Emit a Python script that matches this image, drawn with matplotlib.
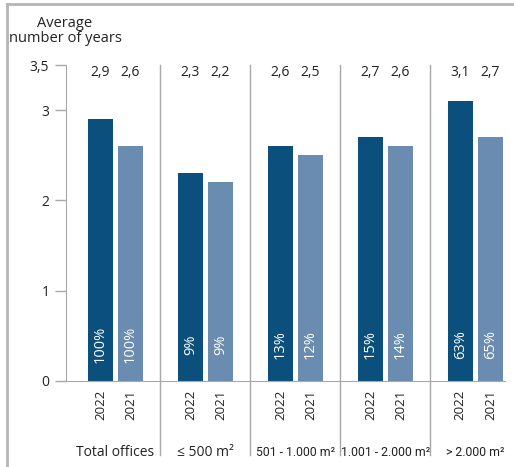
import matplotlib
matplotlib.use("Agg")
import matplotlib.pyplot as plt
import numpy as np

plt.rcParams['font.family'] = ['Open Sans', 'DejaVu Sans']

categories = ["Total offices", "≤ 500 m²", "501 - 1.000 m²", "1.001 - 2.000 m²", "> 2.000 m²"]
years = ["2022", "2021"]
years_2022 = [2.9, 2.3, 2.6, 2.7, 3.1]
years_2021 = [2.6, 2.2, 2.5, 2.6, 2.7]
share_2022 = ["100%", "9%", "13%", "15%", "63%"]
share_2021 = ["100%", "9%", "12%", "14%", "65%"]

dark = "#0b4f7c"
light = "#6a8cb0"
grey = "#a8a8a8"

fig = plt.figure(figsize=(5.14, 4.67), dpi=100)
ax = fig.add_axes([0.1284, 0.1842, 0.8541, 0.6766])

x = np.arange(len(categories))
off = 0.167
w = 0.278
ax.bar(x - off, years_2022, width=w, color=dark)
ax.bar(x + off, years_2021, width=w, color=light)

for i in x:
    for dx, v, s, yr in [(-off, years_2022[i], share_2022[i], years[0]),
                         (off, years_2021[i], share_2021[i], years[1])]:
        ax.text(i + dx, 3.42, f"{v:.1f}".replace(".", ","), ha="center", va="center",
                fontsize=10, color="#222222")
        ax.text(i + dx, 0.4, s, rotation=90, ha="center", va="center",
                fontsize=10.5, color="white")
        ax.text(i + dx, -0.1, yr, rotation=90, ha="center", va="top",
                fontsize=9.5, color="#222222")
    # narrower face for the longer group names so they stay inside their column
    if i < 2:
        ax.text(i, -0.79, categories[i], ha="center", va="center",
                fontsize=10, color="#222222")
    else:
        ax.text(i, -0.79, categories[i], ha="center", va="center",
                fontsize=8.8, color="#222222", family=['Roboto', 'DejaVu Sans'])

# group separators running from the top down through the label area
for i in x[:-1]:
    ax.plot([i + 0.5, i + 0.5], [3.5, -0.82], color=grey, lw=1, clip_on=False)

ax.set_xlim(-0.55, 4.33)
ax.set_ylim(0, 3.5)
ax.set_yticks([0, 1, 2, 3, 3.5])
ax.set_yticklabels(["0", "1", "2", "3", "3,5"], fontsize=10, color="#222222")
ax.set_xticks([])
ax.tick_params(axis="y", length=8, color=grey, width=1, pad=4)
for side in ["top", "right"]:
    ax.spines[side].set_visible(False)
ax.spines["left"].set_color(grey)
ax.spines["bottom"].set_color(grey)
ax.spines["bottom"].set_bounds(-0.59, 4.33)

fig.text(65 / 514, 1 - 31 / 467, "Average\nnumber of years", ha="center",
         va="center", fontsize=10.5, color="#222222", linespacing=0.95)

# frame lines along the top and left edge
fig.add_artist(plt.Line2D([7 / 514, 1], [1 - 4 / 467, 1 - 4 / 467], color="#b5b5b5", lw=2))
fig.add_artist(plt.Line2D([7 / 514, 7 / 514], [0, 1 - 4 / 467], color="#b5b5b5", lw=2))

fig.savefig("out.png", dpi=100)
